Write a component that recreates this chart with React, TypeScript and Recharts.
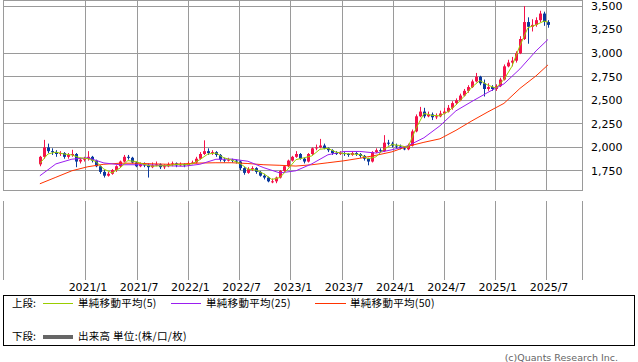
import React from "react";
import {
  ComposedChart,
  Bar,
  Line,
  XAxis,
  YAxis,
  CartesianGrid,
  ReferenceArea,
} from "recharts";

// 2週足（2020年7月中旬〜2025年7月）。t = 2020/1 からの月数
const START_MONTH = 6.6;
const STEP_MONTHS = 0.4686;

const opens = [
  1820, 1900, 2000, 1960, 1950, 1930, 1940, 1900, 1920, 1930,
  1850, 1870, 1880, 1900, 1860, 1800, 1740, 1700, 1720, 1760,
  1800, 1850, 1900, 1890, 1840, 1800, 1820, 1810, 1790, 1810,
  1820, 1790, 1800, 1820, 1830, 1810, 1820, 1810, 1830, 1840,
  1880, 1930, 1960, 1940, 1950, 1920, 1870, 1860, 1870, 1860,
  1850, 1780, 1730, 1770, 1780, 1740, 1700, 1680, 1640, 1640,
  1680, 1750, 1800, 1860, 1900, 1930, 1880, 1850, 1930, 1990,
  2000, 2020, 1990, 1970, 1940, 1930, 1940, 1930, 1920, 1940,
  1930, 1910, 1880, 1850, 1950, 1970, 1960, 2050, 2040, 2020,
  2010, 1990, 1980, 2020, 2170, 2330, 2380, 2330, 2350, 2320,
  2330, 2360, 2380, 2420, 2470, 2500, 2550, 2600, 2640, 2700,
  2750, 2680, 2620, 2640, 2620, 2650, 2720, 2860, 2900, 2920,
  3000, 3150, 3330, 3280, 3300, 3350, 3420, 3330,
];
const highs = [
  1910, 2080, 2040, 1990, 1970, 1960, 1950, 1940, 1975, 1940,
  1890, 1900, 1960, 1910, 1870, 1810, 1760, 1740, 1770, 1810,
  1860, 1920, 1920, 1900, 1850, 1840, 1840, 1830, 1840, 1850,
  1830, 1820, 1840, 1850, 1840, 1840, 1830, 1850, 1860, 1900,
  1950, 2075, 1990, 1970, 1960, 1930, 1890, 1890, 1880, 1870,
  1860, 1790, 1790, 1800, 1790, 1750, 1720, 1690, 1670, 1690,
  1760, 1810, 1870, 1910, 1960, 1940, 1890, 1940, 2000, 2030,
  2090, 2040, 2000, 1980, 1960, 1960, 1950, 1940, 1960, 1950,
  1940, 1920, 1890, 1960, 1990, 1990, 2130, 2080, 2060, 2040,
  2030, 2010, 2040, 2190, 2350, 2430, 2420, 2380, 2370, 2360,
  2390, 2420, 2450, 2490, 2520, 2570, 2620, 2660, 2720, 2790,
  2760, 2720, 2680, 2660, 2670, 2740, 2880, 2930, 2960, 3020,
  3180, 3500, 3380, 3360, 3380, 3450, 3440, 3350,
];
const lows = [
  1800, 1880, 1940, 1920, 1900, 1910, 1880, 1880, 1900, 1790,
  1830, 1850, 1860, 1840, 1790, 1720, 1680, 1690, 1710, 1740,
  1790, 1840, 1870, 1830, 1790, 1790, 1790, 1680, 1780, 1800,
  1770, 1770, 1790, 1800, 1790, 1800, 1790, 1800, 1820, 1830,
  1870, 1920, 1920, 1920, 1900, 1850, 1840, 1850, 1840, 1830,
  1760, 1710, 1720, 1750, 1720, 1690, 1660, 1630, 1620, 1620,
  1670, 1740, 1790, 1850, 1890, 1870, 1830, 1840, 1920, 1970,
  1990, 1980, 1950, 1920, 1920, 1920, 1910, 1900, 1910, 1910,
  1890, 1860, 1810, 1840, 1940, 1940, 1950, 2020, 2000, 1990,
  1980, 1970, 1970, 2010, 2160, 2320, 2310, 2320, 2290, 2300,
  2320, 2350, 2370, 2400, 2450, 2490, 2540, 2580, 2630, 2690,
  2660, 2540, 2600, 2600, 2600, 2640, 2710, 2850, 2860, 2900,
  2990, 3140, 3100, 3230, 3280, 3330, 3290, 3270,
];
const closes = [
  1900, 2000, 1960, 1950, 1930, 1940, 1900, 1920, 1930, 1850,
  1870, 1880, 1900, 1860, 1800, 1740, 1700, 1720, 1760, 1800,
  1850, 1900, 1890, 1840, 1800, 1820, 1810, 1790, 1810, 1820,
  1790, 1800, 1820, 1830, 1810, 1820, 1810, 1830, 1840, 1880,
  1930, 1960, 1940, 1950, 1920, 1870, 1860, 1870, 1860, 1850,
  1780, 1730, 1770, 1780, 1740, 1700, 1680, 1640, 1640, 1680,
  1750, 1800, 1860, 1900, 1930, 1880, 1850, 1930, 1990, 2000,
  2020, 1990, 1970, 1940, 1930, 1940, 1930, 1920, 1940, 1930,
  1910, 1880, 1850, 1950, 1970, 1960, 2050, 2040, 2020, 2010,
  1990, 1980, 2020, 2170, 2330, 2380, 2330, 2350, 2320, 2330,
  2360, 2380, 2420, 2470, 2500, 2550, 2600, 2640, 2700, 2750,
  2680, 2620, 2640, 2620, 2650, 2720, 2860, 2900, 2920, 3000,
  3150, 3330, 3280, 3300, 3350, 3420, 3330, 3300,
];

// 移動平均 [足の番号, 値]
const sma5Pts = [
  [0, 1830], [2, 1930], [4, 1950], [6, 1930], [8, 1920], [10, 1890], [12, 1880],
  [14, 1850], [16, 1770], [18, 1730], [20, 1780], [22, 1860], [24, 1850], [26, 1820],
  [28, 1800], [30, 1805], [32, 1805], [34, 1820], [36, 1815], [38, 1825], [40, 1870],
  [42, 1930], [44, 1940], [46, 1890], [48, 1865], [50, 1830], [52, 1770], [54, 1760],
  [56, 1720], [58, 1660], [60, 1680], [62, 1770], [64, 1870], [66, 1890], [68, 1910],
  [70, 1980], [72, 1990], [74, 1950], [76, 1935], [78, 1930], [80, 1925], [82, 1880],
  [84, 1900], [86, 1980], [88, 2030], [90, 2020], [92, 2000], [94, 2200], [96, 2360],
  [98, 2340], [100, 2335], [102, 2380], [104, 2450], [106, 2540], [108, 2640], [110, 2710],
  [112, 2660], [114, 2630], [116, 2720], [118, 2860], [120, 3080], [122, 3270], [124, 3300],
  [126, 3340], [127, 3330],
];
const sma25Pts = [
  [0, 1699], [4, 1825], [8, 1875], [12, 1890], [16, 1835], [20, 1816], [24, 1816],
  [28, 1814], [32, 1805], [36, 1800], [40, 1821], [44, 1874], [48, 1876], [52, 1853],
  [56, 1784], [60, 1729], [64, 1752], [68, 1826], [72, 1922], [76, 1957], [80, 1957],
  [84, 1940], [88, 1975], [92, 2017], [96, 2102], [100, 2229], [104, 2388], [108, 2488],
  [112, 2584], [116, 2674], [120, 2833], [124, 3023], [127, 3145],
];
const sma50Pts = [
  [0, 1614], [4, 1683], [8, 1752], [12, 1795], [16, 1821], [20, 1832], [24, 1832],
  [28, 1826], [32, 1821], [36, 1826], [40, 1834], [44, 1837], [48, 1837], [52, 1829],
  [56, 1816], [60, 1810], [64, 1802], [68, 1816], [72, 1837], [76, 1858], [80, 1885],
  [84, 1916], [88, 1953], [92, 2012], [96, 2054], [100, 2091], [104, 2181], [108, 2282],
  [112, 2377], [116, 2467], [120, 2626], [124, 2758], [127, 2875],
];

const yTicks = [1750, 2000, 2250, 2500, 2750, 3000, 3250, 3500];
const xTicks = [12, 18, 24, 30, 36, 42, 48, 54, 60, 66];
const xLabels = [
  "2021/1", "2021/7", "2022/1", "2022/7", "2023/1",
  "2023/7", "2024/1", "2024/7", "2025/1", "2025/7",
];

const X_DOMAIN: [number, number] = [2.28, 70.1];
const Y_DOMAIN: [number, number] = [1548, 3564];

const UP = "#f5124a";
const DOWN = "#0a3a9e";
const C5 = "#9acd00";
const C25 = "#9b1ef0";
const C50 = "#ff3300";
const GRID = "#9a9a9a";
const NUM_FONT = "'DejaVu Sans', Verdana, sans-serif";
const JP_FONT = "'Noto Sans CJK JP', sans-serif";

type Row = {
  t: number;
  o: number;
  h: number;
  l: number;
  c: number;
  sma5: number | null;
  sma25: number | null;
  sma50: number | null;
};

const rows: Row[] = closes.map((c, i) => ({
  t: START_MONTH + i * STEP_MONTHS,
  o: opens[i],
  h: highs[i],
  l: lows[i],
  c,
  sma5: null,
  sma25: null,
  sma50: null,
}));
sma5Pts.forEach(([i, v]) => (rows[i].sma5 = v));
sma25Pts.forEach(([i, v]) => (rows[i].sma25 = v));
sma50Pts.forEach(([i, v]) => (rows[i].sma50 = v));

function Candle(props: any) {
  const { x, y, width, height, payload } = props;
  if (!payload || height == null) return null;
  const { o, h, l, c } = payload as Row;
  const color = c >= o ? UP : DOWN;
  const k = h > l ? height / (h - l) : 0;
  const yo = y + (h - o) * k;
  const yc = y + (h - c) * k;
  const top = Math.min(yo, yc);
  const bh = Math.max(1, Math.abs(yo - yc));
  const cx = Math.round(x + width / 2) + 0.5;
  return (
    <g>
      <line x1={cx} x2={cx} y1={y} y2={y + height} stroke={color} strokeWidth={1} />
      <rect x={cx - 1.5} y={top} width={3} height={bh} fill={color} />
    </g>
  );
}

function DateTick(props: any) {
  const { x, y, payload } = props;
  const idx = xTicks.indexOf(payload.value);
  return (
    <text
      x={x + 2}
      y={y}
      textAnchor="middle"
      fontSize={11}
      fontFamily={NUM_FONT}
      fill="#000"
    >
      {xLabels[idx]}
    </text>
  );
}

export default function App() {
  return (
    <div
      style={{
        position: "absolute",
        left: 0,
        top: 0,
        width: 638,
        height: 362,
        background: "#fff",
        overflow: "hidden",
      }}
    >
      <style>{`.recharts-cartesian-grid line, .recharts-reference-area-rect { shape-rendering: crispEdges; }`}</style>

      {/* 上段: ローソク足 + 移動平均 */}
      <div style={{ position: "absolute", left: 0, top: 0 }}>
        <ComposedChart
          width={638}
          height={191}
          data={rows}
          margin={{ top: 0, right: 0, bottom: 1, left: 3 }}
        >
          <XAxis
            dataKey="t"
            type="number"
            domain={X_DOMAIN}
            ticks={xTicks}
            allowDataOverflow
            hide
          />
          <YAxis
            orientation="right"
            type="number"
            domain={Y_DOMAIN}
            ticks={yTicks}
            allowDataOverflow
            width={56}
            axisLine={false}
            tickLine={false}
            tickMargin={3}
            tickFormatter={(v: number) => v.toLocaleString("en-US")}
            tick={{ fontSize: 11, fontFamily: NUM_FONT, fill: "#000" }}
          />
          <CartesianGrid stroke={GRID} strokeWidth={1} />
          <ReferenceArea
            x1={X_DOMAIN[0]}
            x2={X_DOMAIN[1]}
            y1={Y_DOMAIN[0]}
            y2={Y_DOMAIN[1]}
            fill="none"
            stroke={GRID}
            strokeWidth={1}
          />
          <Bar
            dataKey={(d: Row) => [d.l, d.h]}
            barSize={3}
            shape={(p: any) => <Candle {...p} />}
            isAnimationActive={false}
          />
          <Line dataKey="sma50" stroke={C50} strokeWidth={1} dot={false} connectNulls isAnimationActive={false} />
          <Line dataKey="sma25" stroke={C25} strokeWidth={1} dot={false} connectNulls isAnimationActive={false} />
          <Line dataKey="sma5" stroke={C5} strokeWidth={1} dot={false} connectNulls isAnimationActive={false} />
        </ComposedChart>
      </div>

      {/* 下段: 出来高（空） */}
      <div style={{ position: "absolute", left: 0, top: 190 }}>
        <ComposedChart
          width={638}
          height={110}
          data={rows}
          margin={{ top: 11, right: 56, bottom: 0, left: 3 }}
        >
          <XAxis
            dataKey="t"
            type="number"
            domain={X_DOMAIN}
            ticks={xTicks}
            allowDataOverflow
            height={20}
            axisLine={false}
            tickLine={false}
            tickSize={0}
            tickMargin={11}
            tick={<DateTick />}
          />
          <YAxis type="number" domain={[0, 1]} hide />
          <CartesianGrid stroke={GRID} strokeWidth={1} horizontal={false} />
          <ReferenceArea
            x1={X_DOMAIN[0]}
            x2={X_DOMAIN[1]}
            y1={0}
            y2={1}
            fill="none"
            stroke={GRID}
            strokeWidth={1}
          />
        </ComposedChart>
      </div>

      {/* 凡例 */}
      <svg
        width={638}
        height={362}
        style={{ position: "absolute", left: 0, top: 0, pointerEvents: "none" }}
      >
        <rect x={3.5} y={295.5} width={631} height={50} fill="none" stroke="#000" strokeWidth={1} />
        <g fontFamily={JP_FONT} fontSize={10.5} fill="#000">
          <text x={12} y={307}>上段:</text>
          <line x1={43} x2={73} y1={303.5} y2={303.5} stroke={C5} strokeWidth={1} />
          <text x={78} y={307} letterSpacing={0.3}>単純移動平均(5)</text>
          <line x1={171} x2={201} y1={303.5} y2={303.5} stroke={C25} strokeWidth={1} />
          <text x={206} y={307} letterSpacing={0.3}>単純移動平均(25)</text>
          <line x1={315} x2={346} y1={303.5} y2={303.5} stroke={C50} strokeWidth={1} />
          <text x={350} y={307} letterSpacing={0.3}>単純移動平均(50)</text>
          <text x={12} y={340}>下段:</text>
          <line x1={43} x2={73} y1={337} y2={337} stroke="#666" strokeWidth={4} />
          <text x={78} y={340} letterSpacing={0.3}>出来高 単位:(株/口/枚)</text>
        </g>
        <text
          x={618}
          y={361}
          textAnchor="end"
          fontFamily={NUM_FONT}
          fontSize={9.5}
          fill="#666"
        >
          (c)Quants Research Inc.
        </text>
      </svg>
    </div>
  );
}
